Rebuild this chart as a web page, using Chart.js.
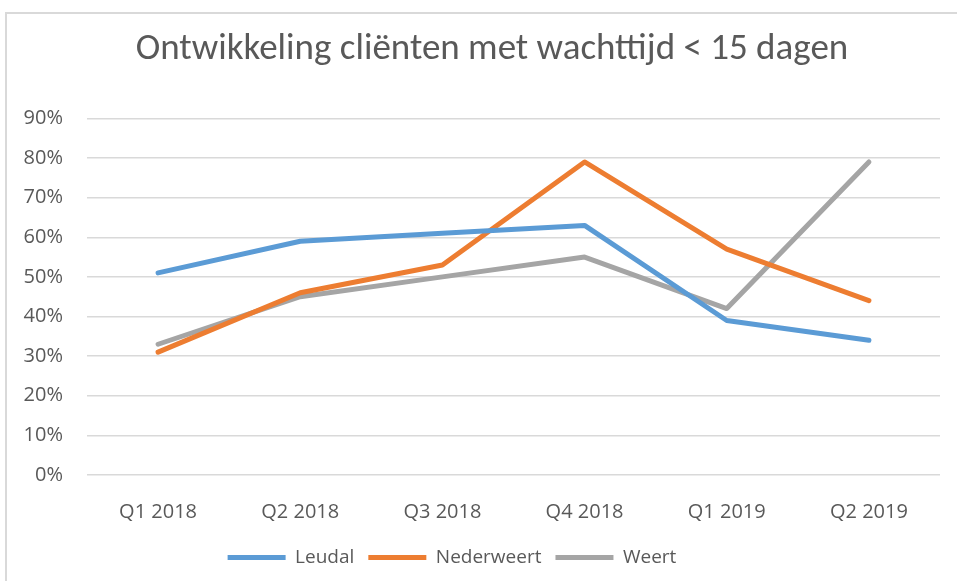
<!DOCTYPE html>
<html><head><meta charset="utf-8">
<script src="https://cdn.jsdelivr.net/npm/chart.js@4/dist/chart.umd.min.js"></script>
<style>
html,body{margin:0;padding:0;background:#fff;width:957px;height:581px;overflow:hidden;}
#frame{position:absolute;left:5px;top:12px;width:1000px;height:700px;border:2px solid #d9d9d9;box-sizing:border-box;}
#wrap{position:absolute;left:0;top:0;width:957px;height:581px;}
</style></head>
<body>
<div id="frame"></div>
<div id="wrap"><canvas id="c" width="957" height="581"></canvas></div>
<script>
const categories = ["Q1 2018","Q2 2018","Q3 2018","Q4 2018","Q1 2019","Q2 2019"];
const leudal = [0.51,0.59,0.61,0.63,0.39,0.34];
const nederweert = [0.31,0.46,0.53,0.79,0.57,0.44];
const weert = [0.33,0.45,0.50,0.55,0.42,0.79];
const seriesNames = ["Leudal","Nederweert","Weert"];
const titleText = "Ontwikkeling cliënten met wachttijd < 15 dagen";

const TFONT = "Carlito, Lato, sans-serif";
const FONT = "'Open Sans', sans-serif";
const TXT = "#595959";
const mk = (label, data, color) => ({
  label, data, borderColor: color, backgroundColor: color,
  borderWidth: 5, pointRadius: 0, pointHoverRadius: 0,
  borderCapStyle: 'round', borderJoinStyle: 'round', tension: 0, pointStyle: 'line'
});
const shiftPlugin = {
  id: 'shift',
  afterLayout(chart) {
    if (chart.titleBlock) { chart.titleBlock.left += 22; chart.titleBlock.right += 22; }
    if (chart.legend) { chart.legend.left -= 18; chart.legend.right -= 18; }
  }
};
new Chart(document.getElementById('c'), {
  type: 'line',
  data: {
    labels: categories,
    datasets: [
      mk(seriesNames[0], leudal, '#5B9BD5'),
      mk(seriesNames[1], nederweert, '#ED7D31'),
      mk(seriesNames[2], weert, '#A5A5A5')
    ]
  },
  plugins: [shiftPlugin],
  options: {
    responsive: false, animation: false,
    layout: { padding: { left: 0, right: 17, top: 0, bottom: 4 } },
    plugins: {
      title: { display: true, text: titleText, color: TXT,
        font: { family: TFONT, size: 37, weight: 'normal' }, padding: { top: 28, bottom: 46 } },
      legend: { position: 'bottom',
        labels: { usePointStyle: true, pointStyle: 'line', pointStyleWidth: 58, boxHeight: 19,
          color: TXT, font: { family: FONT, size: 19 }, padding: 14 } },
      tooltip: { enabled: false }
    },
    scales: {
      x: {
        offset: true,
        grid: { display: false, drawTicks: false },
        border: { display: false },
        ticks: { color: TXT, font: { family: FONT, size: 20 }, padding: 25 },
        afterFit: s => { s.height = 59; }
      },
      y: {
        min: 0, max: 0.9,
        grid: { color: '#d9d9d9', lineWidth: 1.5, drawTicks: false },
        border: { display: false },
        ticks: { stepSize: 0.1, color: TXT, font: { family: FONT, size: 20 }, padding: 24,
          callback: v => Math.round(v * 100) + '%' },
        afterFit: s => { s.width = 87; }
      }
    }
  }
});
</script>
</body></html>
